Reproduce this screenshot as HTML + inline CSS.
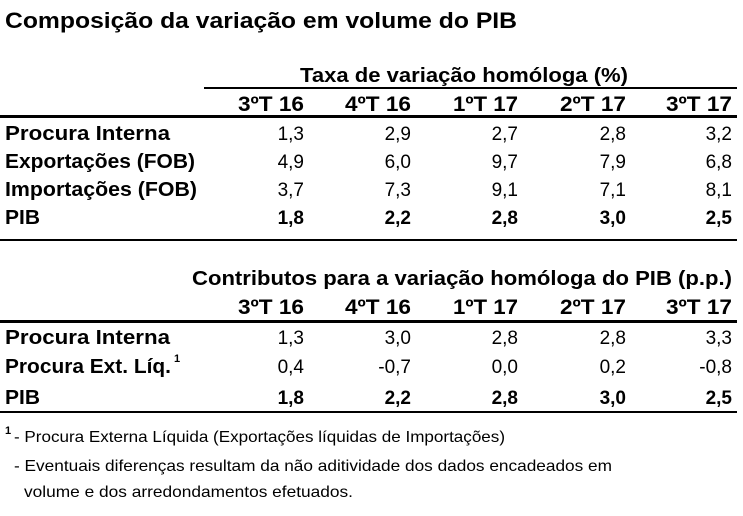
<!DOCTYPE html>
<html><head><meta charset="utf-8"><style>
html,body{margin:0;padding:0;background:#fff;width:743px;height:516px;overflow:hidden}
svg{display:block}
text{font-family:"Liberation Sans",sans-serif;fill:#000}
.b{font-weight:bold}
</style></head><body>
<svg width="743" height="516" viewBox="0 0 743 516">
<text class="b" x="5" y="28" font-size="22" textLength="512" lengthAdjust="spacingAndGlyphs">Composição da variação em volume do PIB</text>

<text class="b" x="300" y="82" font-size="20" textLength="328" lengthAdjust="spacingAndGlyphs">Taxa de variação homóloga (%)</text>
<rect x="204" y="87" width="533" height="2"/>
<g class="b" font-size="21">
<text x="238" y="111" textLength="66" lengthAdjust="spacingAndGlyphs">3ºT 16</text><text x="345" y="111" textLength="66" lengthAdjust="spacingAndGlyphs">4ºT 16</text><text x="453" y="111" textLength="65" lengthAdjust="spacingAndGlyphs">1ºT 17</text><text x="560" y="111" textLength="66" lengthAdjust="spacingAndGlyphs">2ºT 17</text><text x="666" y="111" textLength="66" lengthAdjust="spacingAndGlyphs">3ºT 17</text>
</g>
<rect x="0" y="115" width="737" height="3"/>
<g class="b" font-size="20">
<text x="5" y="140" textLength="165" lengthAdjust="spacingAndGlyphs">Procura Interna</text>
<text x="5" y="168" textLength="190" lengthAdjust="spacingAndGlyphs">Exportações (FOB)</text>
<text x="5" y="196" textLength="192" lengthAdjust="spacingAndGlyphs">Importações (FOB)</text>
<text x="5" y="224" textLength="35" lengthAdjust="spacingAndGlyphs">PIB</text>
</g>
<g font-size="19" text-anchor="end">
<text x="304" y="140">1,3</text><text x="411" y="140">2,9</text><text x="518" y="140">2,7</text><text x="626" y="140">2,8</text><text x="732" y="140">3,2</text>
<text x="304" y="168">4,9</text><text x="411" y="168">6,0</text><text x="518" y="168">9,7</text><text x="626" y="168">7,9</text><text x="732" y="168">6,8</text>
<text x="304" y="196">3,7</text><text x="411" y="196">7,3</text><text x="518" y="196">9,1</text><text x="626" y="196">7,1</text><text x="732" y="196">8,1</text>
<g class="b"><text x="304" y="224">1,8</text><text x="411" y="224">2,2</text><text x="518" y="224">2,8</text><text x="626" y="224">3,0</text><text x="732" y="224">2,5</text></g>
</g>
<rect x="0" y="239" width="737" height="2"/>

<text class="b" x="192" y="285" font-size="20" textLength="540" lengthAdjust="spacingAndGlyphs">Contributos para a variação homóloga do PIB (p.p.)</text>
<g class="b" font-size="21">
<text x="238" y="314" textLength="66" lengthAdjust="spacingAndGlyphs">3ºT 16</text><text x="345" y="314" textLength="66" lengthAdjust="spacingAndGlyphs">4ºT 16</text><text x="453" y="314" textLength="65" lengthAdjust="spacingAndGlyphs">1ºT 17</text><text x="560" y="314" textLength="66" lengthAdjust="spacingAndGlyphs">2ºT 17</text><text x="666" y="314" textLength="66" lengthAdjust="spacingAndGlyphs">3ºT 17</text>
</g>
<rect x="0" y="320" width="737" height="3"/>
<g class="b" font-size="20">
<text x="5" y="344" textLength="165" lengthAdjust="spacingAndGlyphs">Procura Interna</text>
<text x="5" y="373" textLength="166" lengthAdjust="spacingAndGlyphs">Procura Ext. Líq.</text>
<text x="174" y="362" font-size="11">1</text>
<text x="5" y="404" textLength="35" lengthAdjust="spacingAndGlyphs">PIB</text>
</g>
<g font-size="19" text-anchor="end">
<text x="304" y="344">1,3</text><text x="411" y="344">3,0</text><text x="518" y="344">2,8</text><text x="626" y="344">2,8</text><text x="732" y="344">3,3</text>
<text x="304" y="373">0,4</text><text x="411" y="373">-0,7</text><text x="518" y="373">0,0</text><text x="626" y="373">0,2</text><text x="732" y="373">-0,8</text>
<g class="b"><text x="304" y="404">1,8</text><text x="411" y="404">2,2</text><text x="518" y="404">2,8</text><text x="626" y="404">3,0</text><text x="732" y="404">2,5</text></g>
</g>
<rect x="0" y="411" width="737" height="2"/>

<text class="b" x="5" y="434" font-size="11">1</text>
<text x="14" y="442" font-size="16" textLength="491" lengthAdjust="spacingAndGlyphs"> - Procura Externa Líquida (Exportações líquidas de Importações)</text>
<text x="14" y="471" font-size="16" textLength="598" lengthAdjust="spacingAndGlyphs">- Eventuais diferenças resultam da não aditividade dos dados encadeados em</text>
<text x="24" y="497" font-size="16" textLength="329" lengthAdjust="spacingAndGlyphs">volume e dos arredondamentos efetuados.</text>
</svg>
</body></html>
